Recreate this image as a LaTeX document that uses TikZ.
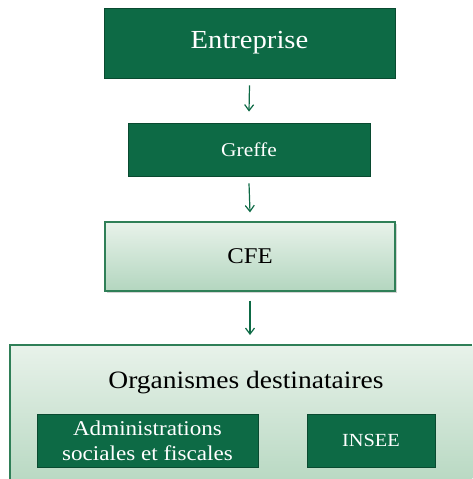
\documentclass[tikz,border=0pt]{standalone}
\usepackage{fontspec}
\setmainfont{Liberation Serif}[FakeStretch=1.1]
\usetikzlibrary{shadows,arrows.meta}
\definecolor{darkgreen}{HTML}{0D6A45}
\definecolor{edgegreen}{HTML}{2F7F57}
\definecolor{lighttop}{HTML}{E8F2EA}
\definecolor{lightbot}{HTML}{B3D6BF}
\definecolor{orgbot}{HTML}{B9D9C3}
\tikzset{
  x=1pt, y=-1pt,
  darkbox/.style={draw=darkgreen!70!black, line width=0.8pt, fill=darkgreen,
    text=white, align=center, inner sep=0pt},
  lightbox/.style={draw=edgegreen, line width=1.2pt,
    top color=lighttop, bottom color=lightbot, inner sep=0pt},
  flow/.style={-{Straight Barb[length=6pt,width=9pt,line width=1.2pt]}, draw=darkgreen, line width=1.2pt},
}
\begin{document}
\begin{tikzpicture}
\useasboundingbox (0,0) rectangle (472,479);

% main chain
\node[darkbox, minimum width=291pt, minimum height=70pt, font=\fontsize{26}{30}\selectfont]
  (ent) at (249.5,43) {Entreprise};
\node[darkbox, minimum width=242pt, minimum height=53pt, font=\fontsize{19.5}{22}\selectfont]
  (gre) at (249,149.5) {Greffe};
\node[lightbox, drop shadow={shadow xshift=1.5pt, shadow yshift=-1.5pt, opacity=0.35},
  minimum width=290pt, minimum height=69pt, font=\fontsize{22.5}{26}\selectfont]
  (cfe) at (250,256.5) {CFE};

% recipient bodies, cut off by the right and lower edges
\node[inner sep=0pt, minimum width=462pt, minimum height=134pt, anchor=north west]
  (org) at (10,345) {};
\shade[top color=lighttop, bottom color=orgbot] (org.north west) rectangle (org.south east);
\draw[edgegreen, line width=1.2pt] (org.south west) |- (org.north east);
\node[font=\fontsize{25}{28}\selectfont] (orgt) at (246,383) {Organismes destinataires};
\node[darkbox, minimum width=221pt, minimum height=53pt, font=\fontsize{21}{25}\selectfont]
  (adm) at (147.5,440.5) {Administrations\\sociales et fiscales};
\node[darkbox, minimum width=128pt, minimum height=53pt, font=\fontsize{18.5}{22}\selectfont]
  (ins) at (371,440.5) {INSEE};

% connectors
\draw[flow] ([yshift=-7pt]ent.south) -- ([yshift=11pt]gre.north);
\draw[flow] ([yshift=-7pt]gre.south) -- ([yshift=9pt]cfe.north);
\draw[flow] ([yshift=-9pt]cfe.south) -- ([yshift=10pt]org.north -| cfe.south);
\end{tikzpicture}
\end{document}
